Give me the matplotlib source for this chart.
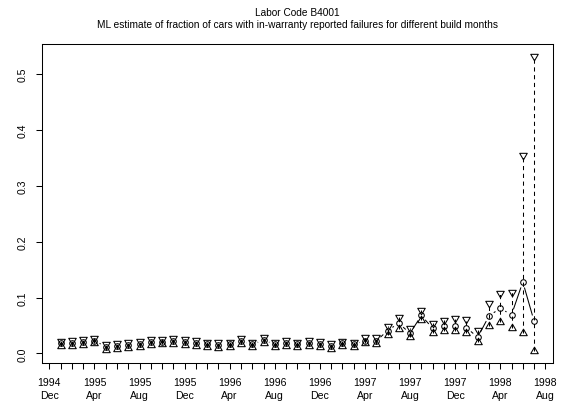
import numpy as np
import matplotlib
matplotlib.use("Agg")
import matplotlib.pyplot as plt
from matplotlib.path import Path

plt.rcParams["font.family"] = ["Liberation Sans", "DejaVu Sans"]
plt.rcParams["lines.scale_dashes"] = False

# Build months Jan 1995 .. Jul 1998, one point per month
month_index = list(range(43))

estimate = [0.018, 0.019, 0.020, 0.023, 0.012, 0.013, 0.015, 0.017, 0.020, 0.021,
            0.022, 0.020, 0.019, 0.016, 0.015, 0.016, 0.022, 0.016, 0.024, 0.016,
            0.019, 0.016, 0.019, 0.017, 0.013, 0.018, 0.016, 0.023, 0.022, 0.041,
            0.054, 0.036, 0.068, 0.045, 0.049, 0.050, 0.046, 0.029, 0.067, 0.081,
            0.069, 0.128, 0.058]
upper = [0.023, 0.024, 0.025, 0.028, 0.017, 0.018, 0.020, 0.022, 0.025, 0.026,
         0.027, 0.025, 0.024, 0.021, 0.020, 0.021, 0.027, 0.021, 0.030, 0.021,
         0.024, 0.021, 0.024, 0.022, 0.018, 0.023, 0.021, 0.029, 0.029, 0.049,
         0.066, 0.046, 0.078, 0.055, 0.060, 0.063, 0.061, 0.042, 0.090, 0.108,
         0.110, 0.356, 0.533]
lower = [0.013, 0.014, 0.015, 0.018, 0.007, 0.008, 0.010, 0.012, 0.015, 0.016,
         0.017, 0.015, 0.014, 0.011, 0.010, 0.011, 0.017, 0.011, 0.019, 0.011,
         0.014, 0.011, 0.014, 0.012, 0.008, 0.013, 0.011, 0.018, 0.016, 0.033,
         0.044, 0.029, 0.060, 0.037, 0.040, 0.040, 0.036, 0.021, 0.050, 0.057,
         0.045, 0.037, 0.004]

tick_months = list(range(-1, 44))          # Dec 1994 .. Aug 1998
label_months = list(range(-1, 44, 4))
tick_labels = ["1994\nDec", "1995\nApr", "1995\nAug", "1995\nDec",
               "1996\nApr", "1996\nAug", "1996\nDec", "1997\nApr",
               "1997\nAug", "1997\nDec", "1998\nApr", "1998\nAug"]
yticks = [0.0, 0.1, 0.2, 0.3, 0.4, 0.5]

W, H, DPI = 569, 402, 100
fig = plt.figure(figsize=(W / DPI, H / DPI), dpi=DPI)
left, right, top, bottom = 41.7, 553.0, 45.0, 364.0
ax = fig.add_axes([left / W, 1 - bottom / H, (right - left) / W, (bottom - top) / H])

x = np.array(month_index, dtype=float)
est = np.array(estimate)
up = np.array(upper)
lo = np.array(lower)

# R-style 4% axis extension
xr = x.max() - x.min()
ax.set_xlim(x.min() - 0.04 * xr, x.max() + 0.04 * xr)
ymin, ymax = lo.min(), up.max()
yr = ymax - ymin
ax.set_ylim(ymin - 0.04 * yr, ymax + 0.04 * yr)

lw = 0.75
# dashed interval lines
ax.vlines(x, lo, up, colors="black", linewidth=lw, linestyles=(0, (3, 2.6)))

# estimates joined by a line with gaps around each point
gap = 5.8  # pixels
disp = ax.transData.transform(np.column_stack([x, est]))
inv = ax.transData.inverted()
for p0, p1 in zip(disp[:-1], disp[1:]):
    d = np.hypot(*(p1 - p0))
    f = gap / d
    if f < 0.5:
        a = p0 + f * (p1 - p0)
        b = p1 - f * (p1 - p0)
        seg = inv.transform(np.array([a, b]))
        ax.plot(seg[:, 0], seg[:, 1], color="black", linewidth=lw, solid_capstyle="butt")

# triangles centred on their centroid, as in R's pch 2 / pch 6
tri_up = Path([(0, 1.555), (1.347, -0.778), (-1.347, -0.778), (0, 1.555)], closed=True)
tri_dn = Path([(0, -1.555), (1.347, 0.778), (-1.347, 0.778), (0, -1.555)], closed=True)
xc0 = 2.8 * 0.72  # points
ms_circ = 2 * xc0
ms_tri = 2 * 1.555 * xc0

ax.plot(x, est, linestyle="none", marker="o", ms=ms_circ, mfc="none", mec="black", mew=lw)
ax.plot(x, up, linestyle="none", marker=tri_dn, ms=ms_tri, mfc="none", mec="black", mew=lw)
ax.plot(x, lo, linestyle="none", marker=tri_up, ms=ms_tri, mfc="none", mec="black", mew=lw)

# axes
for s in ax.spines.values():
    s.set_linewidth(lw)
ax.set_xticks(tick_months)
ax.set_xticklabels([tick_labels[label_months.index(m)] if m in label_months else ""
                    for m in tick_months], fontsize=7.6, linespacing=1.3)
ax.set_yticks(yticks)
ax.set_yticklabels([f"{v:.1f}" for v in yticks], fontsize=7.6, rotation=90, va="center")
ax.tick_params(axis="both", direction="out", length=4.3, width=lw, color="black")
ax.tick_params(axis="x", pad=6)
ax.tick_params(axis="y", pad=6)

fig.text((left + right) / 2 / W, 1 - 13.3 / H, "Labor Code B4001",
         ha="center", va="center", fontsize=7.3)
fig.text((left + right) / 2 / W, 1 - 25.5 / H,
         "ML estimate of fraction of cars with in-warranty reported failures for different build months",
         ha="center", va="center", fontsize=7.3)

fig.savefig("out.png", dpi=DPI)
